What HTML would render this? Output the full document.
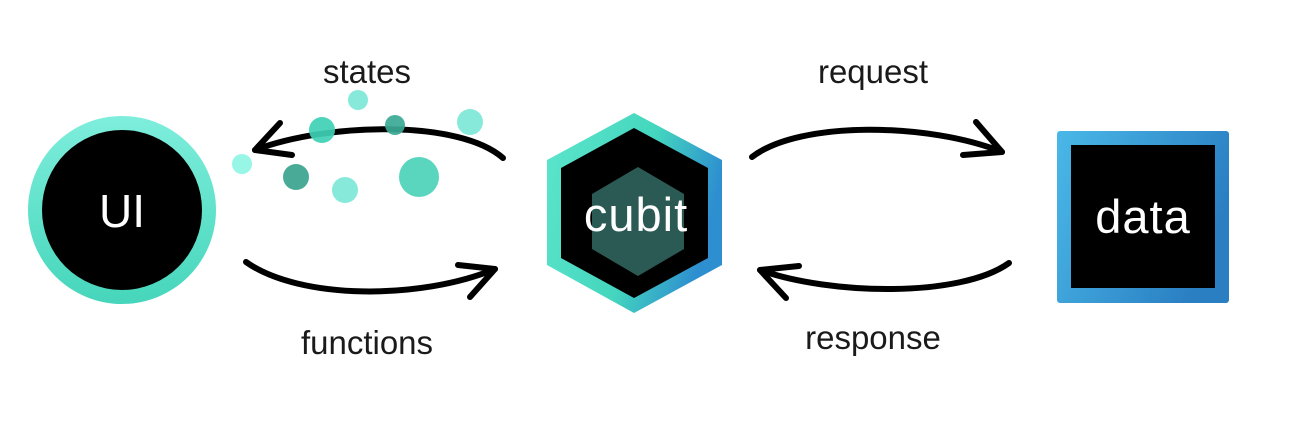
<!DOCTYPE html>
<html><head><meta charset="utf-8"><style>
html,body{margin:0;padding:0;background:#fff;}
svg{display:block}
text{font-family:"Liberation Sans","DejaVu Sans",sans-serif;}
</style></head><body>
<svg width="1308" height="448" viewBox="0 0 1308 448" xmlns="http://www.w3.org/2000/svg">
<defs>
<linearGradient id="gc" x1="0" y1="0" x2="0" y2="1"><stop offset="0" stop-color="#7eeedc"/><stop offset="1" stop-color="#46d6bb"/></linearGradient>
<linearGradient id="gh" x1="0" y1="0" x2="1" y2="0.3"><stop offset="0" stop-color="#5ce6cc"/><stop offset="0.6" stop-color="#44d6be"/><stop offset="1" stop-color="#2e8fd0"/></linearGradient>
<linearGradient id="gd" x1="0" y1="0" x2="1" y2="0.4"><stop offset="0" stop-color="#4ab8e8"/><stop offset="1" stop-color="#2a7fc2"/></linearGradient>
</defs>
<circle cx="122" cy="210" r="94" fill="url(#gc)"/>
<circle cx="122" cy="210" r="80" fill="#000"/>
<text x="122" y="227" font-size="46" fill="#fff" text-anchor="middle">UI</text>
<polygon points="634,113 722,160 722,265 634,313 547,265 547,160" fill="url(#gh)"/>
<polygon points="634,128 708,168 708,258 634,298 561,258 561,168" fill="#000"/>
<polygon points="638,167 684,194 684,249 638,276 592,249 592,194" fill="#2b5a55"/>
<text x="636" y="231" font-size="47" fill="#fff" text-anchor="middle" letter-spacing="1">cubit</text>
<rect x="1057" y="131" width="172" height="172" rx="3" fill="url(#gd)"/>
<rect x="1071" y="145" width="144" height="143" fill="#000"/>
<text x="1143" y="233" font-size="47" fill="#fff" text-anchor="middle" letter-spacing="1">data</text>
<g fill="none" stroke="#000" stroke-width="6" stroke-linecap="round" stroke-linejoin="round">
<path d="M503,158 C460,120 330,122 255,150"/>
<path d="M280,123 L255,150 L292,155"/>
<path d="M246,262 C300,300 420,300 495,269"/>
<path d="M458,265 L495,269 L470,297"/>
<path d="M752,157 C800,120 930,123 1002,152"/>
<path d="M976,122 L1002,152 L963,155"/>
<path d="M1009,263 C960,298 830,295 760,270"/>
<path d="M799,266 L760,270 L786,298"/>
</g>
<g opacity="0.92">
<circle cx="358" cy="100" r="10" fill="#7de8d6"/>
<circle cx="322" cy="130" r="13" fill="#3fd1b5"/>
<circle cx="395" cy="125" r="10" fill="#3aaa95"/>
<circle cx="470" cy="122" r="13" fill="#7de8d6"/>
<circle cx="242" cy="164" r="10" fill="#8ff5e5"/>
<circle cx="296" cy="177" r="13" fill="#3aa38f"/>
<circle cx="345" cy="190" r="13" fill="#7de8d6"/>
<circle cx="419" cy="177" r="20" fill="#4cd3b8"/>
</g>
<g font-size="33" fill="#1a1a1a" text-anchor="middle">
<text x="367" y="83">states</text>
<text x="367" y="354">functions</text>
<text x="873" y="83">request</text>
<text x="873" y="349">response</text>
</g>
</svg>
</body></html>
